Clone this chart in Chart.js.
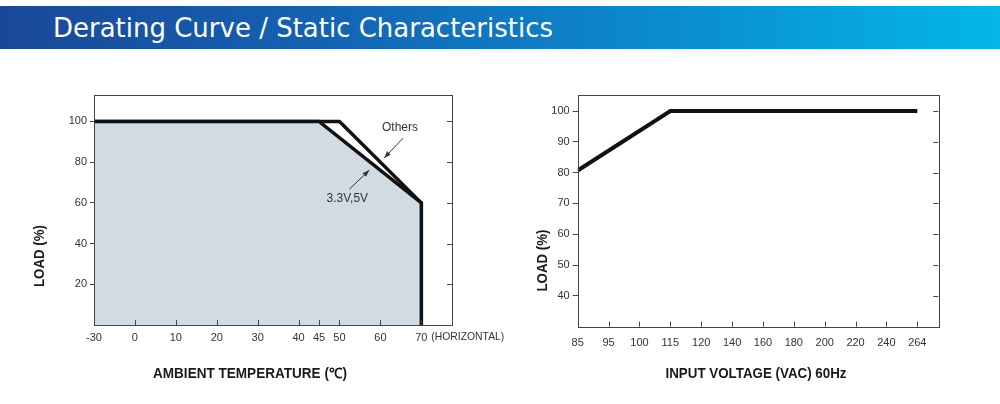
<!DOCTYPE html>
<html><head><meta charset="utf-8">
<script src="https://cdn.jsdelivr.net/npm/chart.js@4"></script>
<style>
html,body{margin:0;padding:0;background:#fff;width:1000px;height:404px;overflow:hidden;}
#hdr{position:absolute;left:0;top:6px;width:1000px;height:43px;background:linear-gradient(to right,#1a4898 0%,#1560b1 30%,#0b8ace 65%,#03b7e7 100%);}
#ttl{position:absolute;left:53px;top:0;line-height:43px;color:#fff;font-size:27px;font-family:"DejaVu Sans";white-space:nowrap;transform-origin:0 50%;}
canvas{position:absolute;left:0;top:0;}
</style></head><body>
<div id="hdr"><span id="ttl">Derating Curve / Static Characteristics</span></div>
<canvas id="c1" width="1000" height="404"></canvas>
<canvas id="c2" width="1000" height="404"></canvas>
<script>
// ---- data ----
const tempTicks = [-30, 0, 10, 20, 30, 40, 45, 50, 60, 70];
const loadTicksL = [20, 40, 60, 80, 100];
const othersTemp = [-30, 50, 70, 70];
const othersLoad = [100, 100, 60, 0];
const lowVTemp = [-30, 45, 70, 70];
const lowVLoad = [100, 100, 60, 0];

const voltTicks = [85, 95, 100, 115, 120, 140, 160, 180, 200, 220, 240, 264];
const loadTicksR = [40, 50, 60, 70, 80, 90, 100];
const voltIn = [85, 115, 264];
const voltLoad = [80.7, 100, 100];

// header width fit
const ttl = document.getElementById('ttl');
ttl.style.transform = 'scaleX(' + (500 / ttl.getBoundingClientRect().width) + ')';

// axis position helpers (broken temperature axis / evenly spaced voltage ticks)
const tempPos = t => t < 0 ? -10 + (t + 30) / 3 : t;
const voltPos = v => voltTicks.indexOf(v);

const FONT = 'Liberation Sans';
const TXT = '#333';
const LINE = '#111';

function drawTextFit(ctx, text, x, y, w, font, rot) {
  ctx.save();
  ctx.translate(x, y);
  if (rot) ctx.rotate(rot);
  ctx.font = font;
  ctx.fillStyle = '#1a1a1a';
  ctx.textAlign = 'center';
  ctx.textBaseline = 'middle';
  ctx.fillText(text, 0, 0, w);
  ctx.restore();
}

function arrow(ctx, x1, y1, x2, y2) {
  ctx.save();
  ctx.strokeStyle = '#333'; ctx.fillStyle = '#333'; ctx.lineWidth = 1;
  ctx.beginPath(); ctx.moveTo(x1, y1); ctx.lineTo(x2, y2); ctx.stroke();
  const a = Math.atan2(y2 - y1, x2 - x1), L = 7, W = 2.5;
  ctx.beginPath();
  ctx.moveTo(x2, y2);
  ctx.lineTo(x2 - L * Math.cos(a) + W * Math.sin(a), y2 - L * Math.sin(a) - W * Math.cos(a));
  ctx.lineTo(x2 - L * Math.cos(a) - W * Math.sin(a), y2 - L * Math.sin(a) + W * Math.cos(a));
  ctx.closePath(); ctx.fill();
  ctx.restore();
}

const frame = {
  id: 'frame',
  afterDraw(chart, args, opts) {
    const {ctx, chartArea: a, scales: {x, y}} = chart;
    ctx.save();
    ctx.strokeStyle = '#444'; ctx.lineWidth = 1;
    ctx.strokeRect(Math.round(a.left) + 0.5, Math.round(a.top) + 0.5, Math.round(a.right - a.left), Math.round(a.bottom - a.top));
    ctx.beginPath();
    x.ticks.forEach(t => {
      const px = Math.round(x.getPixelForValue(t.value)) + 0.5;
      ctx.moveTo(px, a.bottom); ctx.lineTo(px, a.bottom - 5);
    });
    y.ticks.forEach(t => {
      const py = Math.round(y.getPixelForValue(t.value)) + 0.5;
      ctx.moveTo(a.right, py); ctx.lineTo(a.right - 5, py);
    });
    ctx.stroke();
    ctx.restore();
    if (opts.extra) opts.extra(chart);
  }
};

const tickFont = {family: FONT, size: 11};

// ---- left chart: derating curve ----
new Chart(document.getElementById('c1'), {
  type: 'line',
  data: {
    datasets: [
      {
        data: lowVTemp.map((t, i) => ({x: tempPos(t), y: lowVLoad[i]})),
        borderColor: LINE, borderWidth: 3.5, backgroundColor: '#d3dbe2',
        fill: 'origin', pointRadius: 0, tension: 0, borderJoinStyle: 'miter'
      },
      {
        data: othersTemp.map((t, i) => ({x: tempPos(t), y: othersLoad[i]})),
        borderColor: LINE, borderWidth: 3.5, fill: false, pointRadius: 0, tension: 0, borderJoinStyle: 'miter'
      }
    ]
  },
  options: {
    responsive: false, animation: false,
    layout: {padding: {left: 34, right: 548, top: 95, bottom: 0}},
    plugins: {
      legend: {display: false}, tooltip: {enabled: false},
      frame: {
        extra(chart) {
          const {ctx, scales: {x, y}} = chart;
          ctx.save();
          ctx.font = '12px ' + FONT; ctx.fillStyle = TXT;
          ctx.textAlign = 'center'; ctx.textBaseline = 'middle';
          ctx.fillText('Others', x.getPixelForValue(64.8), y.getPixelForValue(96.8));
          ctx.fillText('3.3V,5V', x.getPixelForValue(51.9), y.getPixelForValue(61.9));
          // (HORIZONTAL) after the 70 tick
          ctx.font = '11px ' + FONT; ctx.textAlign = 'left';
          ctx.fillText('(HORIZONTAL)', x.getPixelForValue(70) + 10, 337, 73);
          ctx.restore();
          arrow(ctx, x.getPixelForValue(65.6), y.getPixelForValue(91.9), x.getPixelForValue(60.9), y.getPixelForValue(82.0));
          arrow(ctx, x.getPixelForValue(52.4), y.getPixelForValue(66.7), x.getPixelForValue(57.3), y.getPixelForValue(76.1));
          drawTextFit(ctx, 'AMBIENT TEMPERATURE (\u2103)', 250, 374, 194, 'bold 14px ' + FONT);
          drawTextFit(ctx, 'LOAD (%)', 40, 256, 62, 'bold 14px ' + FONT, -Math.PI / 2);
        }
      }
    },
    scales: {
      x: {
        type: 'linear', min: -10, max: 77.5,
        afterBuildTicks: s => { s.ticks = tempTicks.map(t => ({value: tempPos(t)})); },
        ticks: {callback: (v, i) => String(tempTicks[i]), font: tickFont, color: TXT, padding: 6, maxRotation: 0, autoSkip: false},
        grid: {display: false, drawTicks: false}, border: {display: false},
        afterFit: s => { s.height = 79; }
      },
      y: {
        min: 0, max: 113,
        afterBuildTicks: s => { s.ticks = loadTicksL.map(v => ({value: v})); },
        ticks: {font: tickFont, color: TXT, padding: 3},
        grid: {drawOnChartArea: false, tickLength: 4, color: '#444'}, border: {display: false},
        afterFit: s => { s.width = 60; }
      }
    }
  },
  plugins: [frame]
});

// ---- right chart: static characteristics ----
new Chart(document.getElementById('c2'), {
  type: 'line',
  data: {
    datasets: [{
      data: voltIn.map((v, i) => ({x: voltPos(v), y: voltLoad[i]})),
      borderColor: LINE, borderWidth: 4, fill: false, pointRadius: 0, tension: 0, borderJoinStyle: 'miter'
    }]
  },
  options: {
    responsive: false, animation: false,
    layout: {padding: {left: 517.7, right: 61.7, top: 95, bottom: 0}},
    plugins: {
      legend: {display: false}, tooltip: {enabled: false},
      frame: {
        extra(chart) {
          const {ctx} = chart;
          drawTextFit(ctx, 'INPUT VOLTAGE (VAC) 60Hz', 756, 374, 181, 'bold 14px ' + FONT);
          drawTextFit(ctx, 'LOAD (%)', 543.5, 260.5, 62, 'bold 14px ' + FONT, -Math.PI / 2);
        }
      }
    },
    scales: {
      x: {
        type: 'linear', min: 0, max: 11.68,
        afterBuildTicks: s => { s.ticks = voltTicks.map(v => ({value: voltPos(v)})); },
        ticks: {callback: (v, i) => String(voltTicks[i]), font: tickFont, color: TXT, padding: 10, maxRotation: 0, autoSkip: false},
        grid: {display: false, drawTicks: false}, border: {display: false},
        afterFit: s => { s.height = 77.3; }
      },
      y: {
        min: 30, max: 105.2,
        afterBuildTicks: s => { s.ticks = loadTicksR.map(v => ({value: v})); },
        ticks: {font: tickFont, color: TXT, padding: 3},
        grid: {drawOnChartArea: false, tickLength: 5, color: '#444'}, border: {display: false},
        afterFit: s => { s.width = 60; }
      }
    }
  },
  plugins: [frame]
});
</script>
</body></html>
